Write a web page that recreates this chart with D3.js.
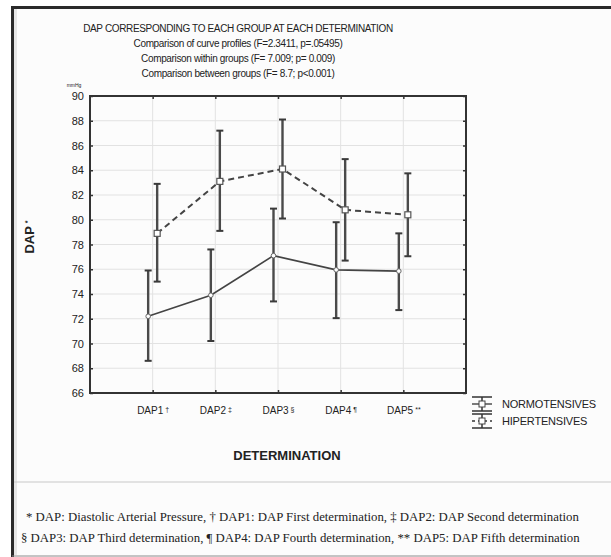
<!DOCTYPE html>
<html>
<head>
<meta charset="utf-8">
<script src="https://cdn.jsdelivr.net/npm/d3@7"></script>
<style>
  body { margin: 0; background: #fff; }
  svg text { font-family: "Liberation Sans", Arial, sans-serif; fill: #222; }
</style>
</head>
<body>
<script>

var categories = ["DAP1", "DAP2", "DAP3", "DAP4", "DAP5"];
var catMarks = ["\u2020", "\u2021", "\u00a7", "\u00b6", "**"];
var normoMean = [72.2, 73.9, 77.1, 75.95, 75.85];
var normoLow = [68.6, 70.2, 73.4, 72.05, 72.7];
var normoHigh = [75.9, 77.6, 80.9, 79.8, 78.9];
var hiperMean = [78.9, 83.1, 84.1, 80.8, 80.4];
var hiperLow = [75.0, 79.1, 80.1, 76.7, 77.05];
var hiperHigh = [82.9, 87.2, 88.1, 84.9, 83.75];
var yTicks = [66, 68, 70, 72, 74, 76, 78, 80, 82, 84, 86, 88, 90];

var W = 611, H = 557;
var margin = { top: 96, right: 145, bottom: 164, left: 90 };

var svg = d3.select("body")
  .append("svg")
  .attr("width", W)
  .attr("height", H);

// page background + frames
svg.append("rect").attr("x", 0).attr("y", 0).attr("width", W).attr("height", H).attr("fill", "#fff");
svg.append("rect").attr("x", 14).attr("y", 9).attr("width", W).attr("height", 546)
  .attr("fill", "#fcfcfc").attr("stroke", "none");
svg.append("rect").attr("x", 14).attr("y", 9).attr("width", 3).attr("height", 546).attr("fill", "#e6e6e6");
svg.append("line").attr("x1", 14).attr("x2", W).attr("y1", 482).attr("y2", 482)
  .attr("stroke", "#c8c8c8").attr("stroke-width", 1);
svg.append("line").attr("x1", 12).attr("x2", W).attr("y1", 7.5).attr("y2", 7.5)
  .attr("stroke", "#2a2a2a").attr("stroke-width", 3);
svg.append("line").attr("x1", 12.5).attr("x2", 12.5).attr("y1", 6).attr("y2", 557)
  .attr("stroke", "#2a2a2a").attr("stroke-width", 3);
svg.append("line").attr("x1", 12).attr("x2", W).attr("y1", 556).attr("y2", 556)
  .attr("stroke", "#888").attr("stroke-width", 1);

var x = d3.scalePoint()
  .domain(categories)
  .range([margin.left, W - margin.right])
  .padding(1);

var y = d3.scaleLinear()
  .domain([66, 90])
  .range([H - margin.bottom, margin.top]);

var x0 = margin.left, x1 = W - margin.right, y0 = H - margin.bottom, y1 = margin.top;

// grid
svg.append("g").selectAll("line")
  .data(yTicks.slice(1, -1))
  .join("line")
  .attr("x1", x0).attr("x2", x1)
  .attr("y1", function(d) { return y(d); }).attr("y2", function(d) { return y(d); })
  .attr("stroke", "#e2e2e2").attr("stroke-width", 1);

svg.append("g").selectAll("line")
  .data(categories)
  .join("line")
  .attr("x1", function(d) { return x(d); }).attr("x2", function(d) { return x(d); })
  .attr("y1", y1).attr("y2", y0)
  .attr("stroke", "#e2e2e2").attr("stroke-width", 1);

// axes
var yAxis = svg.append("g")
  .attr("transform", `translate(${x0},0)`)
  .call(d3.axisLeft(y).tickValues(yTicks).tickSize(-3).tickPadding(6));
yAxis.selectAll("text").style("font-size", "11px").attr("fill", "#222");

var yAxisR = svg.append("g")
  .attr("transform", `translate(${x1},0)`)
  .call(d3.axisRight(y).tickValues(yTicks).tickSize(-3).tickFormat(""));

var xAxis = svg.append("g")
  .attr("transform", `translate(0,${y0})`)
  .call(d3.axisBottom(x).tickSize(-3).tickPadding(14)
    .tickFormat(function(d, i) { return d; }));
xAxis.selectAll("text").style("font-size", "10px").attr("fill", "#222")
  .append("tspan")
  .attr("dx", 2)
  .attr("dy", "-0.35em")
  .style("font-size", "7px")
  .text(function(d, i) { return catMarks[i]; });

var xAxisT = svg.append("g")
  .attr("transform", `translate(0,${y1})`)
  .call(d3.axisTop(x).tickSize(-3).tickFormat(""));

[yAxis, yAxisR, xAxis, xAxisT].forEach(function(g) {
  g.select(".domain").remove();
  g.selectAll(".tick line").attr("stroke", "#333").attr("stroke-width", 1.5);
});

svg.append("rect")
  .attr("x", x0).attr("y", y1)
  .attr("width", x1 - x0).attr("height", y0 - y1)
  .attr("fill", "none").attr("stroke", "#333").attr("stroke-width", 2);

svg.append("text")
  .attr("x", x0 - 16).attr("y", y1 - 9)
  .attr("text-anchor", "middle")
  .style("font-size", "5px")
  .text("mmHg");

// series
var series = [
  { name: "NORMOTENSIVES", mean: normoMean, low: normoLow, high: normoHigh, dx: -4.5, dash: null, width: 1.6, marker: "circle" },
  { name: "HIPERTENSIVES", mean: hiperMean, low: hiperLow, high: hiperHigh, dx: 4.5, dash: "6,4", width: 2, marker: "square" }
];

series.forEach(function(s) {
  var pts = categories.map(function(c, i) {
    return { x: x(c) + s.dx, m: s.mean[i], lo: s.low[i], hi: s.high[i] };
  });

  var g = svg.append("g");

  g.selectAll("line.err")
    .data(pts)
    .join("line")
    .attr("class", "err")
    .attr("x1", function(d) { return d.x; }).attr("x2", function(d) { return d.x; })
    .attr("y1", function(d) { return y(d.lo); }).attr("y2", function(d) { return y(d.hi); })
    .attr("stroke", "#4a4a4a").attr("stroke-width", 2.4);

  ["lo", "hi"].forEach(function(k) {
    g.selectAll("line.cap" + k)
      .data(pts)
      .join("line")
      .attr("class", "cap" + k)
      .attr("x1", function(d) { return d.x - 3.5; }).attr("x2", function(d) { return d.x + 3.5; })
      .attr("y1", function(d) { return y(d[k]); }).attr("y2", function(d) { return y(d[k]); })
      .attr("stroke", "#3a3a3a").attr("stroke-width", 2);
  });

  var line = d3.line()
    .x(function(d) { return d.x; })
    .y(function(d) { return y(d.m); });

  g.append("path")
    .datum(pts)
    .attr("d", line)
    .attr("fill", "none")
    .attr("stroke", "#444")
    .attr("stroke-width", s.width)
    .attr("stroke-dasharray", s.dash);

  if (s.marker === "circle") {
    g.selectAll("circle")
      .data(pts)
      .join("circle")
      .attr("cx", function(d) { return d.x; })
      .attr("cy", function(d) { return y(d.m); })
      .attr("r", 2.3)
      .attr("fill", "#fff").attr("stroke", "#666").attr("stroke-width", 1);
  } else {
    g.selectAll("rect")
      .data(pts)
      .join("rect")
      .attr("x", function(d) { return d.x - 3; })
      .attr("y", function(d) { return y(d.m) - 3; })
      .attr("width", 6).attr("height", 6)
      .attr("fill", "#fff").attr("stroke", "#555").attr("stroke-width", 1.2);
  }
});

// legend
var legend = svg.append("g").attr("transform", "translate(482,0)");
series.forEach(function(s, i) {
  var cy = 404 + i * 17;
  var lg = legend.append("g");
  lg.append("line").attr("x1", -10).attr("x2", 10).attr("y1", cy - 7).attr("y2", cy - 7)
    .attr("stroke", "#333").attr("stroke-width", 1.5);
  lg.append("line").attr("x1", -10).attr("x2", 10).attr("y1", cy + 7).attr("y2", cy + 7)
    .attr("stroke", "#333").attr("stroke-width", 1.5);
  lg.append("line").attr("x1", 0).attr("x2", 0).attr("y1", cy - 7).attr("y2", cy + 7)
    .attr("stroke", "#333").attr("stroke-width", 1.5);
  lg.append("line").attr("x1", -10).attr("x2", 10).attr("y1", cy).attr("y2", cy)
    .attr("stroke", "#333").attr("stroke-width", 1.3).attr("stroke-dasharray", s.dash ? "3,3" : null);
  lg.append("rect").attr("x", -3).attr("y", cy - 3).attr("width", 6).attr("height", 6)
    .attr("fill", "#fff").attr("stroke", "#444").attr("stroke-width", 1);
  lg.append("text").attr("x", 20).attr("y", cy + 4)
    .style("font-size", "11px")
    .style("letter-spacing", "-0.2px")
    .text(s.name);
});

// titles
var titles = [
  { t: "DAP CORRESPONDING TO EACH GROUP AT EACH DETERMINATION", y: 32 },
  { t: "Comparison of curve profiles (F=2.3411, p=.05495)", y: 47 },
  { t: "Comparison within groups (F= 7.009; p= 0.009)", y: 62 },
  { t: "Comparison between groups (F= 8.7; p<0.001)", y: 77 }
];
svg.append("g").selectAll("text")
  .data(titles)
  .join("text")
  .attr("x", 238).attr("y", function(d) { return d.y; })
  .attr("text-anchor", "middle")
  .style("font-size", "10px")
  .style("letter-spacing", "-0.35px")
  .text(function(d) { return d.t; });

svg.append("text")
  .attr("x", 287).attr("y", 460)
  .attr("text-anchor", "middle")
  .style("font-size", "13px")
  .style("font-weight", "bold")
  .text("DETERMINATION");

svg.append("text")
  .attr("text-anchor", "middle")
  .attr("transform", "translate(34,237)rotate(-90)")
  .style("font-size", "13px")
  .style("font-weight", "bold")
  .text("DAP")
  .append("tspan")
  .attr("dx", 3).attr("dy", -4)
  .style("font-size", "7px")
  .text("*");

// footnotes
var notes = [
  "*  DAP: Diastolic  Arterial Pressure, \u2020 DAP1: DAP First determination, \u2021 DAP2: DAP Second determination",
  "\u00a7 DAP3: DAP Third determination, \u00b6 DAP4: DAP Fourth determination, ** DAP5: DAP Fifth determination"
];
svg.append("g").selectAll("text")
  .data(notes)
  .join("text")
  .attr("x", function(d, i) { return i === 0 ? 26 : 21; })
  .attr("y", function(d, i) { return 521 + i * 21; })
  .style("font-family", "'Liberation Serif', 'Times New Roman', serif")
  .style("font-size", "12.8px")
  .text(function(d) { return d; });

</script>
</body>
</html>
